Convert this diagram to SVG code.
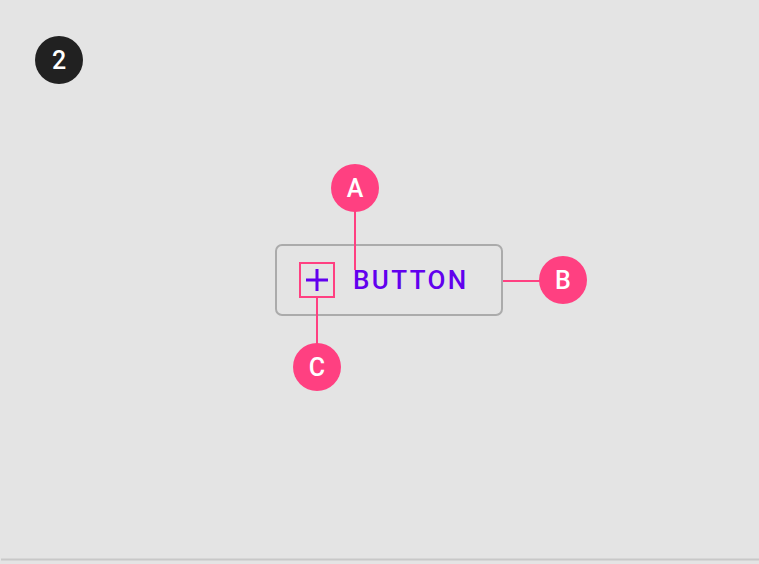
<svg xmlns="http://www.w3.org/2000/svg" width="759" height="564" viewBox="0 0 759 564">
<style>
.bg{fill:#e4e4e4}
.callout circle{fill:#ff4081}
.callout text{fill:#ffffff;font-family:Roboto,"Liberation Sans",sans-serif;font-size:25px;font-weight:500;text-anchor:middle}
.conn line{stroke:#ff4081;stroke-width:2}
</style>
<rect class="bg" x="0" y="0" width="759" height="564"/>
<line x1="1" y1="559.5" x2="759" y2="559.5" stroke="#c8c8c8" stroke-width="2"/>
<g id="badge">
<circle cx="59" cy="60" r="24" fill="#212121"/>
<text x="59" y="69" fill="#ffffff" font-family="Roboto,'Liberation Sans',sans-serif" font-size="25" font-weight="500" text-anchor="middle">2</text>
</g>
<g id="button">
<rect x="276" y="245" width="226" height="70" rx="6" fill="none" stroke="#ababab" stroke-width="2"/>
<text x="353" y="289" fill="#6200ee" font-family="Roboto,'Liberation Sans',sans-serif" font-size="26" font-weight="500" letter-spacing="2.4">BUTTON</text>
</g>
<g id="icon">
<rect x="300" y="263" width="34" height="34" fill="none" stroke="#ff4081" stroke-width="2"/>
<path d="M306 280H328M317 269V291" stroke="#6200ee" stroke-width="3" fill="none"/>
</g>
<g class="conn" id="connectors">
<line x1="355" y1="210" x2="355" y2="270"/>
<line x1="503" y1="281" x2="541" y2="281"/>
<line x1="317" y1="297" x2="317" y2="345"/>
</g>
<g class="callout" id="callout-A"><circle cx="355" cy="188" r="24"/><text x="355" y="197">A</text></g>
<g class="callout" id="callout-B"><circle cx="563" cy="280" r="24"/><text x="563" y="289">B</text></g>
<g class="callout" id="callout-C"><circle cx="317" cy="367" r="24"/><text x="317" y="376">C</text></g>
</svg>
